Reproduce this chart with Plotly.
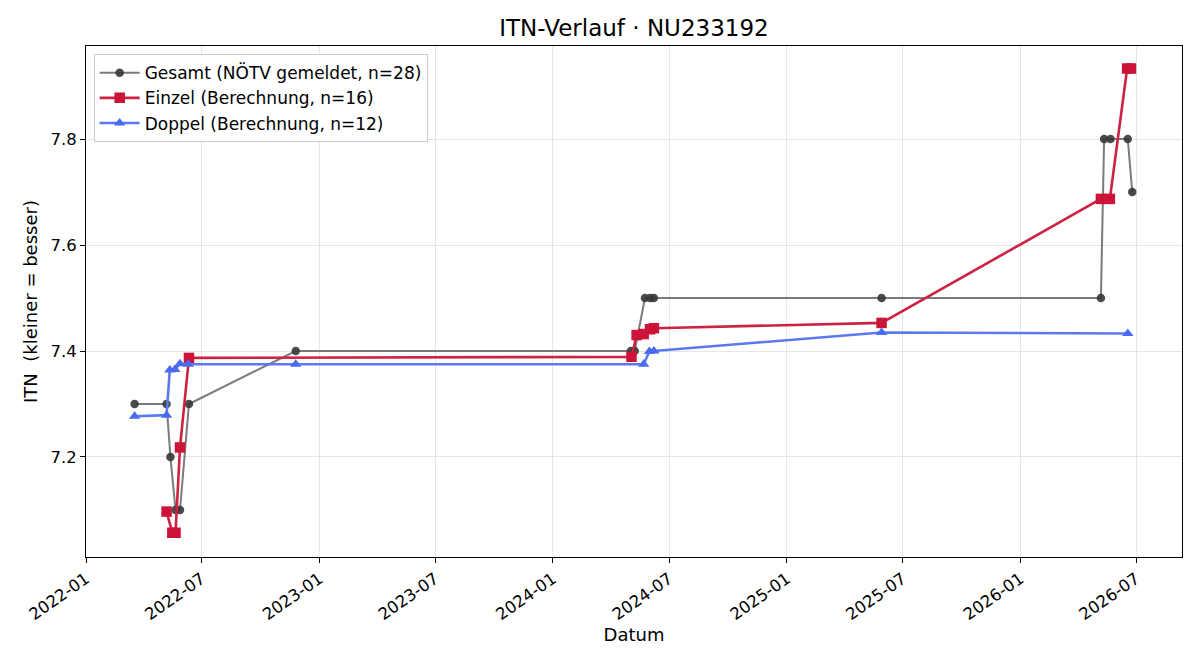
import plotly.graph_objects as go

gesamt_dates = ["2022-03-18", "2022-05-07", "2022-05-13", "2022-05-21", "2022-05-28", "2022-06-11",
                "2022-11-25", "2024-05-02", "2024-05-08", "2024-05-24", "2024-06-01", "2024-06-07",
                "2025-05-29", "2026-05-07", "2026-05-12", "2026-05-22", "2026-06-18", "2026-06-25"]
gesamt_vals = [7.3, 7.3, 7.2, 7.1, 7.1, 7.3,
               7.4, 7.4, 7.4, 7.5, 7.5, 7.5,
               7.5, 7.5, 7.8, 7.8, 7.8, 7.7]

einzel_dates = ["2022-05-07", "2022-05-16", "2022-05-21", "2022-05-28", "2022-06-11",
                "2024-05-03", "2024-05-11", "2024-05-22", "2024-06-01", "2024-06-07",
                "2025-05-29", "2026-05-07", "2026-05-21", "2026-06-17", "2026-06-23"]
einzel_vals = [7.097, 7.057, 7.057, 7.218, 7.387,
               7.389, 7.430, 7.432, 7.441, 7.443,
               7.453, 7.687, 7.687, 7.933, 7.933]

doppel_dates = ["2022-03-18", "2022-05-07", "2022-05-12", "2022-05-20", "2022-05-28", "2022-06-10",
                "2022-11-25", "2024-05-22", "2024-05-31", "2024-06-07", "2025-05-29", "2026-06-18"]
doppel_vals = [7.277, 7.279, 7.364, 7.365, 7.376, 7.375,
               7.375, 7.375, 7.399, 7.400, 7.435, 7.433]

x_tickvals = ["2022-01-01", "2022-07-01", "2023-01-01", "2023-07-01", "2024-01-01",
              "2024-07-01", "2025-01-01", "2025-07-01", "2026-01-01", "2026-07-01"]
x_ticktext = ["2022-01", "2022-07", "2023-01", "2023-07", "2024-01",
              "2024-07", "2025-01", "2025-07", "2026-01", "2026-07"]

FONT = "DejaVu Sans, Verdana, sans-serif"

fig = go.Figure()
fig.add_trace(go.Scatter(
    x=gesamt_dates, y=gesamt_vals, mode="lines+markers",
    name="Gesamt (NÖTV gemeldet, n=28)",
    line=dict(color="rgba(90,90,90,0.8)", width=2),
    marker=dict(symbol="circle", size=8.5, color="rgba(55,55,55,0.9)"),
))
fig.add_trace(go.Scatter(
    x=einzel_dates, y=einzel_vals, mode="lines+markers",
    name="Einzel (Berechnung, n=16)",
    line=dict(color="#cc2244", width=2.6),
    marker=dict(symbol="square", size=10.5, color="#cc1438"),
))
fig.add_trace(go.Scatter(
    x=doppel_dates, y=doppel_vals, mode="lines+markers",
    name="Doppel (Berechnung, n=12)",
    line=dict(color="#5a78f0", width=2.6),
    marker=dict(symbol="triangle-up", size=10, color="#4a6af0"),
))

fig.update_layout(
    width=1200, height=660,
    margin=dict(l=86, r=18, t=46, b=103),
    paper_bgcolor="white", plot_bgcolor="white",
    font=dict(family=FONT, size=16, color="black"),
    title=dict(text="ITN-Verlauf · NU233192", x=0.5, xref="paper", y=0.958, yanchor="middle",
               font=dict(family=FONT, size=23)),
    showlegend=True,
    legend=dict(x=0.007, y=0.984, xanchor="left", yanchor="top",
                bgcolor="rgba(255,255,255,0.85)", bordercolor="#cccccc", borderwidth=1,
                font=dict(family=FONT, size=17), tracegroupgap=0, itemwidth=40),
    xaxis=dict(
        type="date", range=["2022-01-01", "2026-09-10 19:00"],
        tickvals=x_tickvals, ticktext=x_ticktext, tickangle=-35,
        ticks="outside", ticklen=5, tickcolor="black", tickfont=dict(size=16.5),
        showline=True, linecolor="black", linewidth=1, mirror=True,
        showgrid=True, gridcolor="#e6e6e6", gridwidth=1, zeroline=False,
        title=dict(text="Datum", font=dict(size=18), standoff=4),
    ),
    yaxis=dict(
        range=[7.0113, 7.9755], tickvals=[7.2, 7.4, 7.6, 7.8], ticktext=["7.2", "7.4", "7.6", "7.8"],
        ticks="outside", ticklen=5, tickcolor="black", tickfont=dict(size=16.5),
        showline=True, linecolor="black", linewidth=1, mirror=True,
        showgrid=True, gridcolor="#e6e6e6", gridwidth=1, zeroline=False,
        title=dict(text="ITN  (kleiner = besser)", font=dict(size=18), standoff=8),
    ),
)

fig.write_html("out.html")
